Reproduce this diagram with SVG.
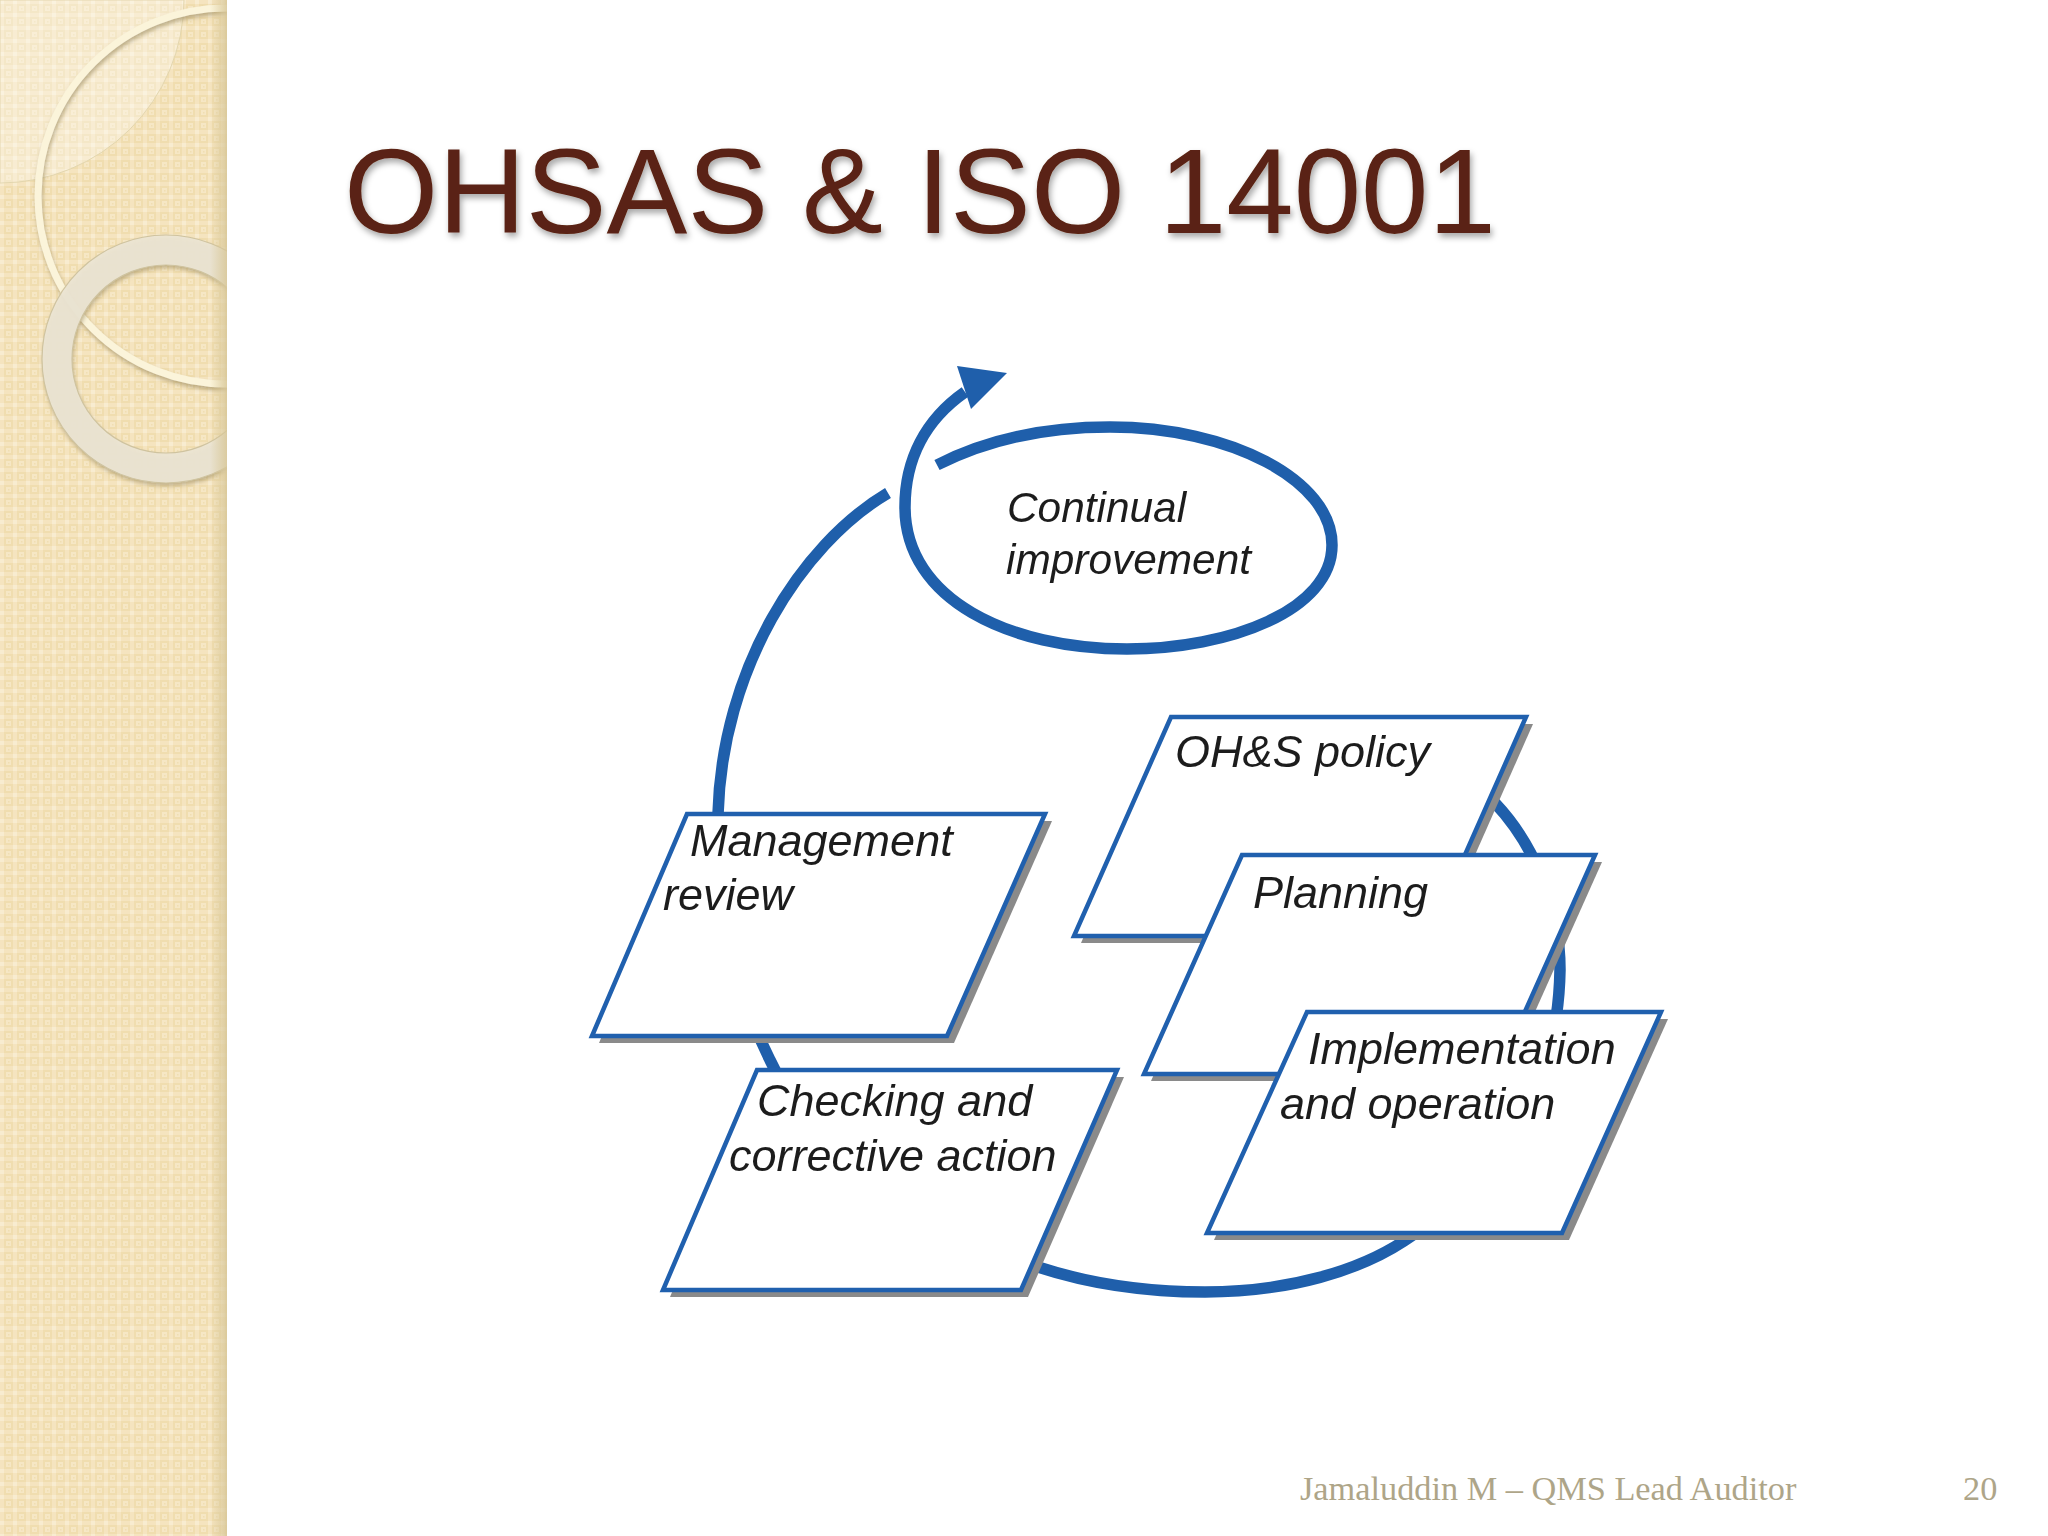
<svg xmlns="http://www.w3.org/2000/svg" width="2048" height="1536" viewBox="0 0 2048 1536">
<style>
.node{fill:#fff;stroke:#2060ae;stroke-width:4.5;stroke-linejoin:miter}
.shadow{fill:#8a8a8a}
.edge{fill:#1f5fab;stroke:none}
.lbl{font-family:"Liberation Sans",Arial,sans-serif;font-style:italic;font-size:45px;fill:#1c1c1c;filter:url(#soft)}
.foot{font-family:"Liberation Serif","Times New Roman",serif;font-size:34.3px;fill:#aea588}
.wire{fill:none;stroke:#1f5fab;stroke-width:11.5}
.rim{fill:none;stroke:#cfc39f;stroke-width:1.2}
</style>
<defs>
<pattern id="weave" width="13" height="13" patternUnits="userSpaceOnUse">
<rect width="13" height="13" fill="#f5e4bf"/>
<rect x="0" y="0" width="4" height="4" fill="#f8ecd0"/>
<rect x="4" y="4" width="9" height="9" fill="#f0ddaf"/>
<rect x="6" y="6" width="5" height="5" fill="#f6e7c5"/>
<rect x="8" y="8" width="1.5" height="1.5" fill="#f0deb2"/>
</pattern>
<linearGradient id="edgeShade" x1="0" x2="1" y1="0" y2="0">
<stop offset="0" stop-color="#d8c798" stop-opacity="0"/>
<stop offset="1" stop-color="#d8c798" stop-opacity=".85"/>
</linearGradient>
<clipPath id="side"><rect width="227" height="1536"/></clipPath>
<filter id="ts" x="-5%" y="-20%" width="110%" height="140%"><feDropShadow dx="2" dy="4" stdDeviation="3" flood-color="#000" flood-opacity=".35"/></filter>
<filter id="rs" x="-10%" y="-10%" width="120%" height="120%"><feDropShadow dx="1" dy="3" stdDeviation="2" flood-color="#8b7a4e" flood-opacity=".55"/></filter>
<filter id="soft" x="-5%" y="-10%" width="110%" height="120%"><feGaussianBlur stdDeviation=".55"/></filter>
</defs>
<rect width="2048" height="1536" fill="#fff"/>
<g id="sidebar" clip-path="url(#side)">
<rect width="227" height="1536" fill="url(#weave)"/>
<path d="M0,0H184A184,184 0 0 1 0,183Z" fill="#fff" fill-opacity=".3" stroke="#e3d6ae" stroke-width="1"/>
<circle cx="226" cy="196" r="188" fill="none" stroke="#fbf4da" stroke-width="7" filter="url(#rs)"/>
<circle cx="166" cy="359" r="109" fill="none" stroke="#ebe5d4" stroke-opacity=".92" stroke-width="30" filter="url(#rs)"/>
<circle class="rim" cx="166" cy="359" r="124"/>
<circle class="rim" cx="166" cy="359" r="94"/>
<rect x="210" width="17" height="1536" fill="url(#edgeShade)"/>
</g>
<text id="title" x="344" y="233" font-family="'Liberation Sans',Arial,sans-serif" font-size="121.2" fill="#5a2312" filter="url(#ts)">OHSAS &amp; ISO 14001</text>
<g id="connectors">
<path class="wire" d="M937,465C990,438 1050,427 1110,427C1230,427 1332,480 1332,545C1332,610 1230,649 1127,649C1010,649 905,600 905,507C905,460 925,420 965,392"/>
<polygon class="edge" points="957,366 1007,373 971,409"/>
<path class="wire" d="M888,493C800,545 722,670 718,814C714,900 735,990 770,1060C830,1190 930,1235 1038,1267C1090,1284 1150,1292 1205,1292C1290,1292 1360,1270 1404,1241C1500,1180 1558,1090 1560,970C1560,900 1530,840 1495,803"/>
</g>
<g id="node-policy">
<polygon class="shadow" points="1178,724 1533,724 1436,943 1081,943"/>
<polygon class="node" points="1171,717 1526,717 1429,936 1074,936"/>
<text class="lbl" x="1175" y="767">OH&amp;S policy</text>
</g>
<g id="node-planning">
<polygon class="shadow" points="1249,862 1602,862 1504,1081 1151,1081"/>
<polygon class="node" points="1242,855 1595,855 1497,1074 1144,1074"/>
<text class="lbl" x="1253" y="908">Planning</text>
</g>
<g id="node-implementation">
<polygon class="shadow" points="1314,1019 1668,1019 1569,1240 1214,1240"/>
<polygon class="node" points="1307,1012 1661,1012 1562,1233 1207,1233"/>
<text class="lbl"><tspan x="1308" y="1064">Implementation</tspan><tspan x="1280" y="1119">and operation</tspan></text>
</g>
<g id="node-management">
<polygon class="shadow" points="694,821 1052,821 954,1043 599,1043"/>
<polygon class="node" points="687,814 1045,814 947,1036 592,1036"/>
<text class="lbl"><tspan x="690" y="856">Management</tspan><tspan x="663" y="910">review</tspan></text>
</g>
<g id="node-checking">
<polygon class="shadow" points="764,1077 1124,1077 1028,1297 670,1297"/>
<polygon class="node" points="757,1070 1117,1070 1021,1290 663,1290"/>
<text class="lbl"><tspan x="757" y="1116">Checking and</tspan><tspan x="729" y="1171">corrective action</tspan></text>
</g>
<g id="node-continual">
<text class="lbl" style="font-size:42.4px"><tspan x="1007" y="522">Continual</tspan><tspan x="1006" y="574">improvement</tspan></text>
</g>
<text id="footer" class="foot" x="1300" y="1500">Jamaluddin M – QMS Lead Auditor</text>
<text id="page" class="foot" x="1963" y="1500">20</text>
</svg>
